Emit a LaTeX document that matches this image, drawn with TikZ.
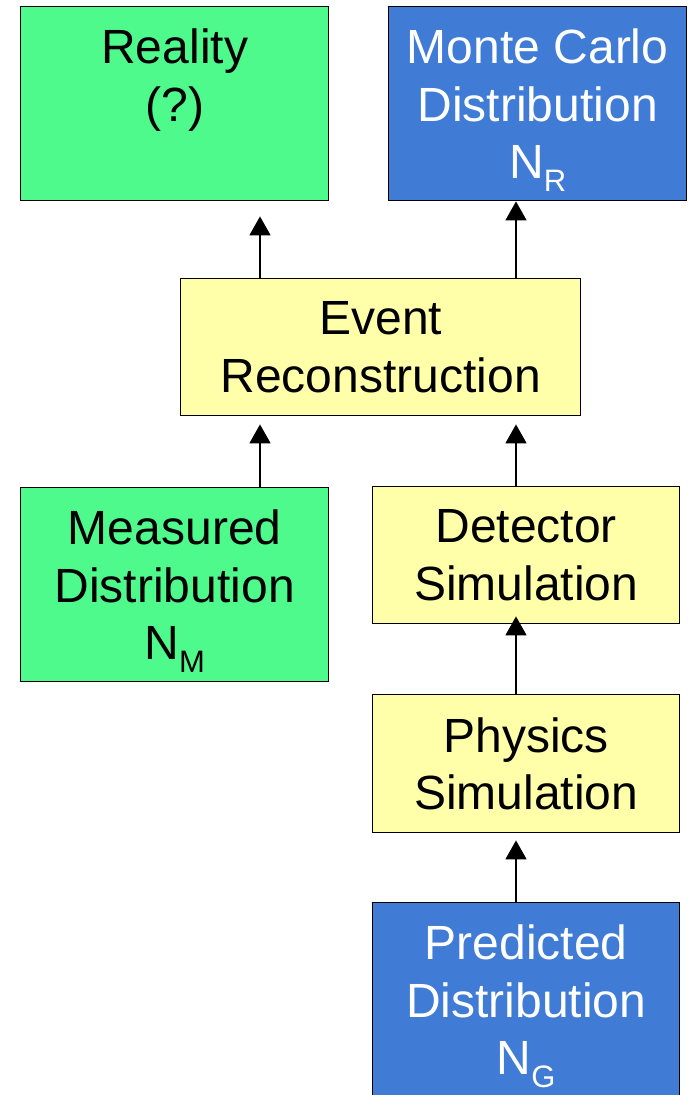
\documentclass[tikz,border=0pt]{standalone}
\usepackage{fontspec}
\setmainfont{Liberation Sans}
\usetikzlibrary{arrows.meta}
\definecolor{boxgreen}{RGB}{77,250,139}
\definecolor{boxblue}{RGB}{64,124,214}
\definecolor{boxyellow}{RGB}{255,255,170}
\newcommand{\subtxt}[2]{#1\raisebox{-13pt}[0pt][0pt]{\fontsize{31}{31}\selectfont #2}}
\begin{document}
\begin{tikzpicture}[x=1pt,y=-1pt,
  box/.style={draw=black, line width=1.4pt, rectangle, inner sep=0pt, align=center,
    font=\fontsize{48}{57.5}\selectfont, anchor=north west},
  greenbox/.style={box, fill=boxgreen, text=black},
  bluebox/.style={box, fill=boxblue, text=white},
  yellowbox/.style={box, fill=boxyellow, text=black},
  conn/.style={line width=1.6pt, -{Triangle[width=21pt,length=19pt]}}]
\useasboundingbox (0,0) rectangle (688,1095);
\node[greenbox, minimum width=308pt, minimum height=194pt] (reality) at (20,6)
  {Reality\\(?)\\\phantom{N}};
\node[bluebox, minimum width=298pt, minimum height=194pt] (mc) at (388,6)
  {Monte Carlo\\Distribution\\\subtxt{N}{R}};
\node[yellowbox, minimum width=400pt, minimum height=137pt] (event) at (180,278)
  {Event\\Reconstruction};
\node[greenbox, minimum width=308pt, minimum height=194pt] (measured) at (20,487)
  {Measured\\Distribution\\\subtxt{N}{M}};
\node[yellowbox, minimum width=307pt, minimum height=137pt] (detector) at (372,486)
  {Detector\\Simulation};
\node[yellowbox, minimum width=307pt, minimum height=138pt] (physics) at (372,694)
  {Physics\\Simulation};
\node[bluebox, minimum width=307pt, minimum height=194pt] (predicted) at (372,902)
  {Predicted\\Distribution\\\subtxt{N}{G}};
\draw[conn, shorten >=15pt] (event.north -| 260,0) -- (reality.south -| 260,0);
\draw[conn] (event.north -| 516,0) -- (mc.south -| 516,0);
\draw[conn, shorten >=8pt] (measured.north -| 260,0) -- (event.south -| 260,0);
\draw[conn, shorten >=8pt] (detector.north -| 516,0) -- (event.south -| 516,0);
\draw[conn, shorten >=-8pt] (physics.north -| 516,0) -- (detector.south -| 516,0);
\draw[conn, shorten >=7pt] (predicted.north -| 516,0) -- (physics.south -| 516,0);
\end{tikzpicture}
\end{document}
